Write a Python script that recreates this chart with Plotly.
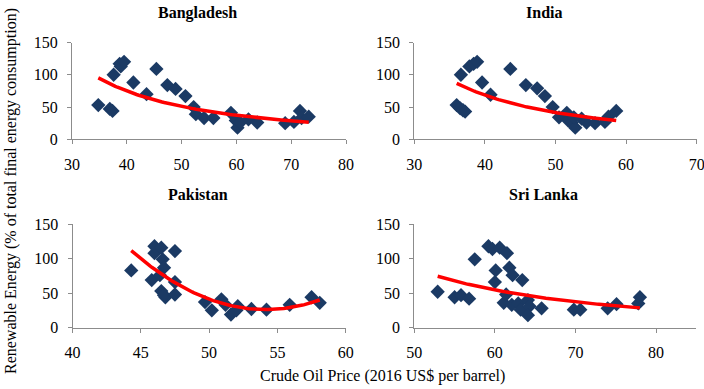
import numpy as np
import plotly.graph_objects as go

# ---- data ----
bgd_price = [34.8, 36.9, 37.4, 37.6, 38.7, 38.9, 39.5, 41.2, 43.6, 45.4, 47.4, 48.9, 50.7, 52.2, 52.6,
             54.1, 55.8, 59.0, 59.9, 60.2, 60.7, 62.2, 63.8, 68.9, 70.5, 71.6, 71.9, 73.2]
bgd_re = [53, 47, 44, 100, 117, 113, 120, 88, 70, 109, 84, 78, 67, 50, 39,
          33, 33, 41, 29, 18, 26, 31, 26, 25, 27, 44, 33, 35]

ind_price = [36.0, 36.5, 36.9, 37.2, 36.6, 37.8, 38.4, 38.9, 39.6, 40.8, 43.6, 45.8, 47.4, 48.5, 49.6,
             50.5, 51.6, 51.8, 52.3, 52.8, 52.6, 53.7, 54.4, 55.6, 57.0, 57.5, 58.6]
ind_re = [53, 48, 45, 43, 100, 113, 117, 120, 88, 69, 109, 84, 79, 67, 50,
          34, 41, 29, 26, 18, 34, 32, 26, 25, 27, 35, 44]

pak_price = [44.3, 45.8, 46.0, 46.0, 46.5, 46.6, 46.7, 46.4, 46.5, 46.8, 46.7, 47.5, 47.5, 47.5,
             49.7, 50.2, 50.9, 51.2, 51.6, 52.1, 52.0, 53.1, 54.2, 55.9, 57.5, 58.1]
pak_re = [83, 69, 108, 118, 116, 99, 87, 76, 53, 44, 47, 111, 66, 48,
          37, 25, 41, 33, 19, 31, 25, 27, 26, 33, 44, 36]

lka_price = [52.9, 55.0, 55.8, 56.8, 57.5, 59.2, 59.7, 60.6, 60.1, 60.0, 61.5, 61.8, 62.2, 61.1,
             61.4, 62.1, 62.9, 63.4, 63.2, 64.1, 64.3, 64.1, 65.8, 69.8, 70.6, 74.0, 75.1, 77.8, 78.0]
lka_re = [52, 44, 47, 42, 99, 118, 114, 116, 83, 66, 108, 87, 76, 36,
          48, 33, 35, 69, 26, 40, 31, 18, 28, 26, 26, 28, 34, 35, 44]

titles = ["Bangladesh", "India", "Pakistan", "Sri Lanka"]
fit_kind = ["power", "power", "poly2", "power"]
x_ranges = [[30, 80], [30, 70], [40, 60], [50, 85]]
x_ticks = [[30, 40, 50, 60, 70, 80], [30, 40, 50, 60, 70], [40, 45, 50, 55, 60], [50, 60, 70, 80]]
y_ticks = [0, 50, 100, 150]

series = [(bgd_price, bgd_re), (ind_price, ind_re), (pak_price, pak_re), (lka_price, lka_re)]

W, H = 704, 389
MARKER = "#1B3A64"
AXIS = "#8C8C8C"
FONT = "Liberation Serif, Times New Roman, serif"
FS = 16

# pixel boxes of plot areas: (left, right, top, bottom)
boxes = [(72, 346, 42.5, 139.3), (414.3, 696.7, 42.5, 139.3),
         (72.5, 345.7, 224.2, 327.6), (414.3, 696.3, 224.2, 327.6)]


def fit_curve(x, y, kind):
    x = np.asarray(x, float)
    y = np.asarray(y, float)
    xs = np.linspace(x.min(), x.max(), 100)
    if kind == "power":
        b, a = np.polyfit(np.log(x), np.log(y), 1)
        ys = np.exp(a) * xs ** b
    else:
        c = np.polyfit(x, y, 2)
        ys = np.polyval(c, xs)
    return xs, ys


fig = go.Figure()
for i, ((x, y), kind) in enumerate(zip(series, fit_kind)):
    n = "" if i == 0 else str(i + 1)
    fig.add_trace(go.Scatter(x=x, y=y, mode="markers", xaxis="x" + n, yaxis="y" + n,
                             marker=dict(symbol="diamond", size=11, color=MARKER),
                             showlegend=False, hoverinfo="x+y"))
    xs, ys = fit_curve(x, y, kind)
    fig.add_trace(go.Scatter(x=xs, y=ys, mode="lines", xaxis="x" + n, yaxis="y" + n,
                             line=dict(color="#FF0000", width=3.5), showlegend=False,
                             hoverinfo="skip"))

layout = dict(width=W, height=H, margin=dict(l=0, r=0, t=0, b=0, autoexpand=False),
              paper_bgcolor="white", plot_bgcolor="white",
              font=dict(family=FONT, size=FS, color="black"))

for i, (l, r, t, b) in enumerate(boxes):
    n = "" if i == 0 else str(i + 1)
    layout["xaxis" + n] = dict(domain=[l / W, r / W], anchor="y" + n, range=x_ranges[i],
                               tickvals=x_ticks[i], showgrid=False, zeroline=False,
                               showline=True, linecolor=AXIS, linewidth=1, automargin=False,
                               ticks="outside", ticklen=4, tickcolor=AXIS,
                               ticklabelstandoff=6, ticklabeloverflow="allow",
                               tickfont=dict(family=FONT, size=FS, color="black"))
    layout["yaxis" + n] = dict(domain=[1 - b / H, 1 - t / H], anchor="x" + n, range=[0, 150],
                               tickvals=y_ticks, showgrid=False, zeroline=False,
                               showline=True, linecolor=AXIS, linewidth=1, automargin=False,
                               ticks="outside", ticklen=4, tickcolor=AXIS,
                               ticklabelstandoff=6, ticklabeloverflow="allow",
                               tickfont=dict(family=FONT, size=FS, color="black"))

annots = []
title_pos = [(197, 13), (543.5, 13), (197.5, 195), (543.5, 195)]
for txt, (px, py) in zip(titles, title_pos):
    annots.append(dict(text="<b>%s</b>" % txt, x=px / W, y=1 - py / H, xref="paper", yref="paper",
                       showarrow=False, xanchor="center", yanchor="middle",
                       font=dict(family=FONT, size=FS, color="black")))
annots.append(dict(text="Crude Oil Price (2016 US$ per barrel)", x=382 / W, y=1 - 376 / H,
                   xref="paper", yref="paper", showarrow=False, xanchor="center", yanchor="middle",
                   font=dict(family=FONT, size=FS, color="black")))
annots.append(dict(text="Renewable Energy (% of total final energy consumption)", x=11 / W,
                   y=1 - 191 / H, xref="paper", yref="paper", showarrow=False, textangle=-90,
                   xanchor="center", yanchor="middle",
                   font=dict(family=FONT, size=FS, color="black")))
layout["annotations"] = annots

fig.update_layout(**layout)
fig.write_html("out.html", config={"displayModeBar": False},
               post_script="document.body.style.margin='0';document.body.style.overflow='hidden';")
